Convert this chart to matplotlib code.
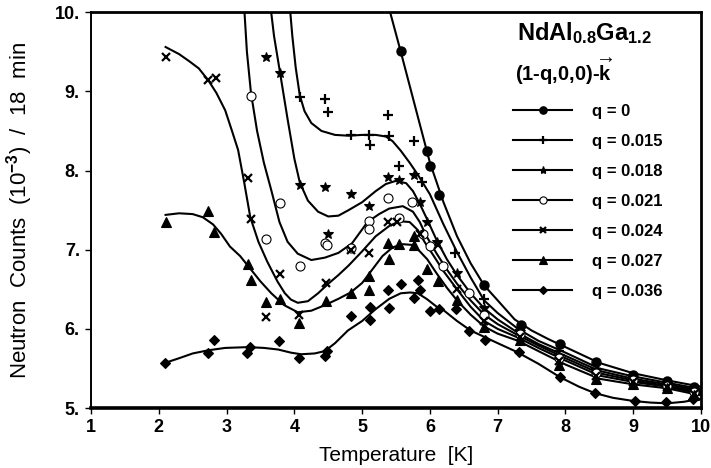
import matplotlib

matplotlib.use("Agg")

import matplotlib.pyplot as plt
from matplotlib.lines import Line2D

plt.rcParams["font.family"] = ["Liberation Sans", "DejaVu Sans"]
plt.rcParams["font.weight"] = "bold"
plt.rcParams["mathtext.fontset"] = "custom"
plt.rcParams["mathtext.rm"] = "Liberation Sans:bold"
plt.rcParams["mathtext.it"] = "Liberation Sans:bold"
plt.rcParams["mathtext.bf"] = "Liberation Sans:bold"

# =========================
# Data
# =========================
labels = ["q = 0", "q = 0.015", "q = 0.018", "q = 0.021", "q = 0.024", "q = 0.027", "q = 0.036"]

# measured points
q0_T = [5.57, 5.95, 6.0, 6.14, 6.8, 7.35, 7.92, 8.45, 9.0, 9.5, 9.9]
q0_C = [9.51, 8.25, 8.06, 7.69, 6.55, 6.05, 5.81, 5.58, 5.42, 5.34, 5.27]

q015_T = [4.08, 4.45, 4.5, 4.83, 5.1, 5.11, 5.38, 5.4, 5.55, 5.76, 5.88, 6.37, 6.8, 7.33, 7.9, 8.45, 9.0, 9.5, 9.9]
q015_C = [8.93, 8.90, 8.74, 8.45, 8.45, 8.32, 8.70, 8.43, 8.06, 8.37, 7.85, 6.96, 6.38, 5.98, 5.72, 5.50, 5.40, 5.32, 5.24]

q018_T = [3.58, 3.79, 4.08, 4.45, 4.5, 4.83, 5.1, 5.38, 5.55, 5.77, 5.85, 5.95, 6.1, 6.4, 6.8, 7.33, 7.9, 8.45, 9.0, 9.5, 9.9]
q018_C = [9.43, 9.23, 7.82, 7.79, 7.20, 7.70, 7.55, 7.92, 7.88, 7.94, 7.60, 7.35, 7.10, 6.70, 6.27, 5.96, 5.66, 5.47, 5.37, 5.30, 5.22]

q021_T = [3.36, 3.58, 3.79, 4.08, 4.45, 4.48, 4.83, 5.1, 5.1, 5.38, 5.55, 5.74, 5.9, 6.0, 6.2, 6.57, 6.8, 7.33, 7.9, 8.45, 9.0, 9.5, 9.9]
q021_C = [8.94, 7.13, 7.59, 6.79, 7.08, 7.06, 7.02, 7.36, 7.26, 7.65, 7.40, 7.60, 7.20, 7.05, 6.80, 6.45, 6.18, 5.93, 5.63, 5.44, 5.35, 5.28, 5.20]

q024_T = [2.1, 2.73, 2.84, 3.31, 3.36, 3.58, 3.79, 4.07, 4.47, 4.83, 5.1, 5.38, 5.52, 5.85, 6.12, 6.4, 6.8, 7.33, 7.9, 8.45, 9.0, 9.5, 9.9]
q024_C = [9.43, 9.14, 9.17, 7.90, 7.39, 6.15, 6.69, 6.17, 6.58, 7.00, 6.96, 7.35, 7.35, 7.20, 7.06, 6.50, 6.10, 5.90, 5.60, 5.41, 5.33, 5.27, 5.18]

q027_T = [2.1, 2.72, 2.82, 3.31, 3.36, 3.58, 3.79, 4.07, 4.47, 4.83, 5.1, 5.1, 5.39, 5.38, 5.55, 5.76, 5.77, 5.96, 6.12, 6.4, 6.8, 7.33, 7.9, 8.45, 9.0, 9.5, 9.9]
q027_C = [7.35, 7.49, 7.22, 6.82, 6.62, 6.34, 6.38, 6.07, 6.35, 6.45, 6.49, 6.67, 6.88, 7.08, 7.07, 7.17, 7.06, 6.76, 6.61, 6.36, 6.02, 5.86, 5.55, 5.37, 5.30, 5.25, 5.16]

q036_T = [2.09, 2.72, 2.82, 3.3, 3.35, 3.78, 4.07, 4.45, 4.48, 4.83, 5.11, 5.11, 5.38, 5.4, 5.57, 5.82, 5.76, 5.85, 6.0, 6.14, 6.39, 6.57, 6.81, 7.31, 7.92, 8.43, 9.02, 9.49, 9.88]
q036_C = [5.57, 5.69, 5.86, 5.70, 5.77, 5.85, 5.63, 5.66, 5.72, 6.16, 6.11, 6.28, 6.49, 6.27, 6.57, 6.62, 6.39, 6.49, 6.23, 6.25, 6.25, 5.97, 5.86, 5.71, 5.39, 5.19, 5.09, 5.08, 5.11]

# guide-to-the-eye curves (nodes)
q0_fit_T = [5.35, 5.57, 5.8, 6.0, 6.2, 6.4, 6.6, 6.8, 7.0, 7.25, 7.5, 7.75, 8.0, 8.5, 9.0, 9.5, 10.0]
q0_fit_C = [10.2, 9.5, 8.75, 8.1, 7.6, 7.17, 6.83, 6.55, 6.36, 6.12, 5.98, 5.87, 5.77, 5.57, 5.44, 5.35, 5.27]

q015_fit_T = [3.92, 3.97, 4.02, 4.08, 4.15, 4.25, 4.4, 4.6, 4.8, 5.0, 5.2, 5.35, 5.45, 5.57, 5.7, 5.82, 6.0, 6.2, 6.4, 6.6, 6.8, 7.0, 7.3, 7.6, 8.0, 8.5, 9.0, 9.5, 10.0]
q015_fit_C = [10.2, 9.7, 9.3, 8.95, 8.75, 8.6, 8.5, 8.45, 8.44, 8.45, 8.45, 8.43, 8.37, 8.25, 8.1, 7.95, 7.7, 7.32, 6.97, 6.65, 6.36, 6.2, 6.0, 5.85, 5.7, 5.5, 5.4, 5.32, 5.24]

q018_fit_T = [3.63, 3.7, 3.79, 3.9, 4.0, 4.08, 4.2, 4.35, 4.5, 4.65, 4.8, 5.0, 5.2, 5.35, 5.5, 5.65, 5.75, 5.85, 5.95, 6.1, 6.25, 6.4, 6.6, 6.8, 7.0, 7.3, 7.6, 8.0, 8.5, 9.0, 9.5, 10.0]
q018_fit_C = [10.2, 9.7, 9.23, 8.65, 8.15, 7.85, 7.62, 7.48, 7.42, 7.43, 7.5, 7.6, 7.74, 7.83, 7.87, 7.84, 7.74, 7.58, 7.4, 7.12, 6.88, 6.68, 6.45, 6.26, 6.12, 5.95, 5.81, 5.66, 5.47, 5.37, 5.3, 5.22]

q021_fit_T = [3.25, 3.3, 3.36, 3.45, 3.55, 3.66, 3.78, 3.9, 4.05, 4.25, 4.45, 4.65, 4.85, 5.08, 5.25, 5.4, 5.6, 5.75, 5.85, 5.95, 6.1, 6.25, 6.4, 6.6, 6.8, 7.0, 7.3, 7.6, 8.0, 8.5, 9.0, 9.5, 10.0]
q021_fit_C = [10.2, 9.5, 8.98, 8.5, 8.1, 7.75, 7.35, 7.1, 6.95, 6.87, 6.9, 6.96, 7.08, 7.35, 7.45, 7.52, 7.55, 7.48, 7.35, 7.17, 6.95, 6.75, 6.57, 6.36, 6.18, 6.06, 5.92, 5.79, 5.63, 5.44, 5.35, 5.28, 5.2]

q024_fit_T = [2.1, 2.3, 2.45, 2.59, 2.73, 2.85, 2.98, 3.08, 3.17, 3.26, 3.35, 3.47, 3.6, 3.75, 3.86, 3.95, 4.05, 4.2, 4.35, 4.5, 4.65, 4.8, 5.0, 5.2, 5.4, 5.55, 5.7, 5.82, 5.92, 6.05, 6.2, 6.4, 6.6, 6.8, 7.0, 7.3, 7.6, 8.0, 8.5, 9.0, 9.5, 10.0]
q024_fit_C = [9.56, 9.47, 9.38, 9.29, 9.14, 8.98, 8.76, 8.5, 8.26, 7.85, 7.41, 7.1, 6.85, 6.6, 6.45, 6.37, 6.33, 6.35, 6.45, 6.57, 6.68, 6.8, 6.98, 7.17, 7.3, 7.36, 7.35, 7.25, 7.1, 6.93, 6.73, 6.5, 6.28, 6.1, 6.0, 5.89, 5.76, 5.6, 5.41, 5.33, 5.27, 5.18]

q027_fit_T = [2.1, 2.3, 2.5, 2.65, 2.8, 2.92, 3.05, 3.2, 3.35, 3.5, 3.66, 3.85, 4.05, 4.25, 4.45, 4.65, 4.83, 5.0, 5.15, 5.3, 5.45, 5.6, 5.75, 5.85, 5.96, 6.1, 6.25, 6.4, 6.6, 6.8, 7.0, 7.3, 7.6, 8.0, 8.5, 9.0, 9.5, 10.0]
q027_fit_C = [7.44, 7.46, 7.45, 7.41, 7.32, 7.2, 7.04, 6.92, 6.76, 6.6, 6.45, 6.3, 6.21, 6.23, 6.3, 6.38, 6.46, 6.58, 6.75, 6.92, 7.03, 7.07, 7.06, 6.98, 6.88, 6.7, 6.52, 6.36, 6.18, 6.03, 5.94, 5.85, 5.72, 5.55, 5.37, 5.3, 5.25, 5.16]

q036_fit_T = [2.09, 2.3, 2.5, 2.73, 2.98, 3.32, 3.55, 3.76, 3.95, 4.1, 4.3, 4.45, 4.6, 4.79, 5.0, 5.2, 5.4, 5.57, 5.71, 5.82, 5.95, 6.1, 6.21, 6.4, 6.6, 6.8, 7.0, 7.28, 7.6, 7.92, 8.2, 8.43, 8.7, 9.0, 9.25, 9.5, 9.75, 10.0]
q036_fit_C = [5.57, 5.63, 5.69, 5.73, 5.76, 5.77, 5.76, 5.74, 5.7, 5.68, 5.69, 5.72, 5.82, 5.98, 6.1, 6.25, 6.38, 6.45, 6.46, 6.45, 6.38, 6.28, 6.23, 6.1, 5.98, 5.9, 5.82, 5.71, 5.56, 5.39, 5.27, 5.19, 5.13, 5.09, 5.07, 5.06, 5.08, 5.12]

x_ticks = [1, 2, 3, 4, 5, 6, 7, 8, 9, 10]
x_ticklabels = ["1", "2", "3", "4", "5", "6", "7", "8", "9", "10"]
y_ticks = [5, 6, 7, 8, 9, 10]
y_ticklabels = ["5.", "6.", "7.", "8.", "9.", "10."]

# =========================
# Styles
# =========================
points = [(q0_T, q0_C), (q015_T, q015_C), (q018_T, q018_C), (q021_T, q021_C),
          (q024_T, q024_C), (q027_T, q027_C), (q036_T, q036_C)]
fits = [(q0_fit_T, q0_fit_C), (q015_fit_T, q015_fit_C), (q018_fit_T, q018_fit_C),
        (q021_fit_T, q021_fit_C), (q024_fit_T, q024_fit_C), (q027_fit_T, q027_fit_C),
        (q036_fit_T, q036_fit_C)]

markers = ["o", "+", "*", "o", "x", "^", "D"]
msizes = [6.5, 7, 7.5, 6.5, 5.5, 6.5, 5]
faces = ["black", "black", "black", "white", "black", "black", "black"]
mews = [1.0, 1.6, 0.8, 0.8, 1.6, 0.8, 0.8]

fig = plt.figure(figsize=(7.11, 4.68), dpi=100)
ax = fig.add_axes([0.128, 0.128, 0.858, 0.846])

for (ft, fc), (pt, pc), m, ms, fcol, mew in zip(fits, points, markers, msizes, faces, mews):
    ax.plot(ft, fc, color="black", lw=1.5, zorder=2)
    ax.plot(pt, pc, ls="none", marker=m, ms=ms, mfc=fcol, mec="black", mew=mew, zorder=3)

ax.set_xlim(1, 10)
ax.set_ylim(5, 10)
ax.set_xticks(x_ticks)
ax.set_xticklabels(x_ticklabels)
ax.set_yticks(y_ticks)
ax.set_yticklabels(y_ticklabels)
ax.tick_params(direction="out", length=4, width=1, labelsize=13, pad=4)

for side, lw in [("bottom", 2.6), ("top", 2.0), ("left", 1.4), ("right", 2.0)]:
    ax.spines[side].set_linewidth(lw)

ax.set_xlabel("Temperature  [K]", fontsize=15)
ax.xaxis.set_label_coords(0.5, -0.095)
ax.set_ylabel("Neutron  Counts  (10$^{-3}$)  /  18  min", fontsize=16)
ax.yaxis.set_label_coords(-0.092, 0.5)

# title inside the plot
ax.text(0.698, 0.947, "NdAl$_{0.8}$Ga$_{1.2}$", transform=ax.transAxes,
        fontsize=17, ha="left", va="center")
ax.text(0.695, 0.85, r"(1-q,0,0)-$\overrightarrow{\mathrm{k}}$", transform=ax.transAxes,
        fontsize=14.5, ha="left", va="center")

handles = [
    Line2D([], [], color="black", lw=1.5, marker=m, ms=ms * 0.8, mfc=fcol, mec="black", mew=mew)
    for m, ms, fcol, mew in zip(markers, msizes, faces, mews)
]
ax.legend(handles, labels, loc="upper left", bbox_to_anchor=(0.692, 0.768),
          frameon=False, fontsize=12, handlelength=3.55, handletextpad=1.2,
          labelspacing=0.9, borderpad=0, borderaxespad=0)

fig.savefig("out.png", dpi=100)
